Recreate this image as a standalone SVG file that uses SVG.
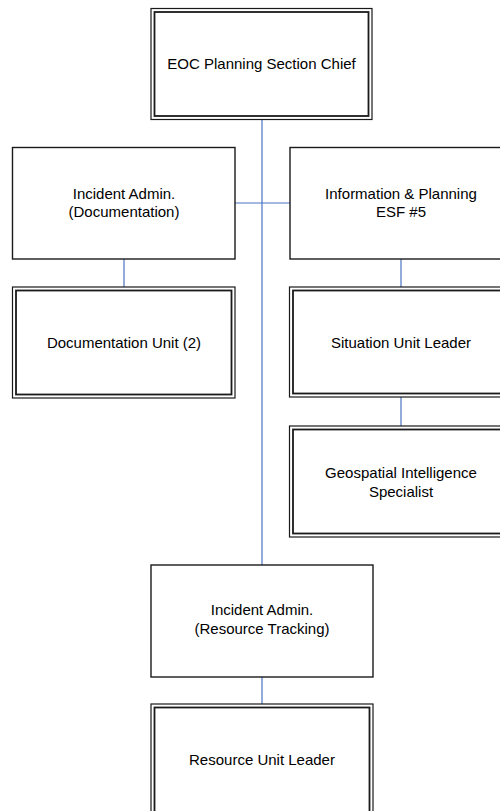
<svg xmlns="http://www.w3.org/2000/svg" width="500" height="811" viewBox="0 0 500 811">
  <style>
    .box { fill: #ffffff; stroke: #1a1a1a; stroke-width: 1.4; }
    .outer { fill: #ffffff; stroke: #1a1a1a; stroke-width: 1.2; }
    .inner { fill: none; stroke: #1a1a1a; stroke-width: 1.8; }
    .label { font-family: "Liberation Sans", Arial, sans-serif; font-size: 15px; fill: #000000; text-anchor: middle; }
    .link { stroke: #4a74c4; stroke-width: 1.2; fill: none; }
  </style>
  <rect width="500" height="811" fill="#ffffff"/>

  <!-- connectors -->
  <g id="connectors">
    <line class="link" x1="262" y1="119" x2="262" y2="565"/>
    <line class="link" x1="235" y1="203" x2="290" y2="203"/>
    <line class="link" x1="124" y1="259" x2="124" y2="287"/>
    <line class="link" x1="401" y1="259" x2="401" y2="287"/>
    <line class="link" x1="401" y1="397" x2="401" y2="426"/>
    <line class="link" x1="262" y1="677" x2="262" y2="704"/>
  </g>

  <!-- EOC Planning Section Chief -->
  <g id="chief">
    <rect class="outer" x="151" y="8.5" width="221" height="111"/>
    <rect class="inner" x="154.5" y="12" width="214" height="104"/>
    <text class="label" x="261.5" y="69">EOC Planning Section Chief</text>
  </g>

  <!-- Incident Admin. (Documentation) -->
  <g id="admin-documentation">
    <rect class="box" x="12.5" y="147.5" width="222.5" height="111.5"/>
    <text class="label" x="124" y="199">Incident Admin.</text>
    <text class="label" x="124" y="217">(Documentation)</text>
  </g>

  <!-- Information & Planning ESF #5 -->
  <g id="info-planning">
    <rect class="box" x="290" y="147.5" width="222" height="111.5"/>
    <text class="label" x="401" y="199">Information &amp; Planning</text>
    <text class="label" x="401" y="217">ESF #5</text>
  </g>

  <!-- Documentation Unit (2) -->
  <g id="documentation-unit">
    <rect class="outer" x="12.5" y="287" width="222.5" height="111"/>
    <rect class="inner" x="16" y="290.5" width="215.5" height="104"/>
    <text class="label" x="124" y="348">Documentation Unit (2)</text>
  </g>

  <!-- Situation Unit Leader -->
  <g id="situation-unit">
    <rect class="outer" x="289.5" y="287" width="222.5" height="110"/>
    <rect class="inner" x="293" y="290.5" width="215.5" height="103"/>
    <text class="label" x="401" y="348">Situation Unit Leader</text>
  </g>

  <!-- Geospatial Intelligence Specialist -->
  <g id="geospatial">
    <rect class="outer" x="289.5" y="426" width="222.5" height="111"/>
    <rect class="inner" x="293" y="429.5" width="215.5" height="104"/>
    <text class="label" x="401" y="478">Geospatial Intelligence</text>
    <text class="label" x="401" y="497">Specialist</text>
  </g>

  <!-- Incident Admin. (Resource Tracking) -->
  <g id="admin-resource-tracking">
    <rect class="box" x="151" y="565" width="222" height="112"/>
    <text class="label" x="262" y="615">Incident Admin.</text>
    <text class="label" x="262" y="634">(Resource Tracking)</text>
  </g>

  <!-- Resource Unit Leader -->
  <g id="resource-unit">
    <rect class="outer" x="151" y="704" width="222" height="112"/>
    <rect class="inner" x="154.5" y="707.5" width="215" height="105"/>
    <text class="label" x="262" y="765">Resource Unit Leader</text>
  </g>
</svg>
